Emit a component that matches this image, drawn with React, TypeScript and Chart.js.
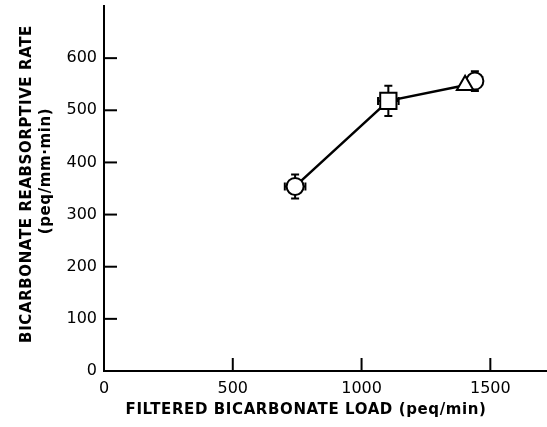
import React, { useEffect, useRef } from "react";
import { Chart, registerables } from "chart.js";

Chart.register(...registerables);

// Main connected series: filtered load (peq/min) vs reabsorptive rate (peq/mm·min)
const loads = [742, 1104, 1402];
const rates = [354, 518, 548];
const rateErr = [23, 29, 0];
const loadErr = [40, 40, 0];
const mainStyles = ["circle", "rect", "triangle"];

// Separate point: circle with inverted triangle
const loads2 = [1440];
const rates2 = [556];
const rateErr2 = [19];

const xTicks = [0, 500, 1000, 1500];
const yTicks = [0, 100, 200, 300, 400, 500, 600];

const xTitle = "FILTERED BICARBONATE LOAD (peq/min)";
const yTitle1 = "BICARBONATE REABSORPTIVE RATE";
const yTitle2 = "(peq/mm·min)";

const FONT = "'DejaVu Sans', sans-serif";

const errorBarPlugin = {
  id: "errorBars",
  beforeDatasetsDraw(chart: any) {
    const { ctx, scales } = chart;
    const xs = scales.x;
    const ys = scales.y;
    ctx.save();
    ctx.strokeStyle = "#000";
    ctx.lineWidth = 2;
    const sets = [
      { xv: loads, yv: rates, ye: rateErr, xe: loadErr },
      { xv: loads2, yv: rates2, ye: rateErr2, xe: [0] },
    ];
    const cap = 4;
    sets.forEach((s) => {
      s.xv.forEach((xv: number, i: number) => {
        const px = xs.getPixelForValue(xv);
        const py = ys.getPixelForValue(s.yv[i]);
        const ye = s.ye[i] || 0;
        const xe = s.xe[i] || 0;
        if (ye > 0) {
          const t = ys.getPixelForValue(s.yv[i] + ye);
          const b = ys.getPixelForValue(s.yv[i] - ye);
          ctx.beginPath();
          ctx.moveTo(px, t);
          ctx.lineTo(px, b);
          ctx.moveTo(px - cap, t);
          ctx.lineTo(px + cap, t);
          ctx.moveTo(px - cap, b);
          ctx.lineTo(px + cap, b);
          ctx.stroke();
        }
        if (xe > 0) {
          const l = xs.getPixelForValue(xv - xe);
          const r = xs.getPixelForValue(xv + xe);
          ctx.beginPath();
          ctx.moveTo(l, py);
          ctx.lineTo(r, py);
          ctx.moveTo(l, py - cap);
          ctx.lineTo(l, py + cap);
          ctx.moveTo(r, py - cap);
          ctx.lineTo(r, py + cap);
          ctx.stroke();
        }
      });
    });
    ctx.restore();
  },
};

const inwardTicksPlugin = {
  id: "inwardTicks",
  afterDatasetsDraw(chart: any) {
    const { ctx, scales, chartArea } = chart;
    ctx.save();
    ctx.strokeStyle = "#000";
    ctx.lineWidth = 2;
    const len = 13;
    scales.x.ticks.forEach((t: any) => {
      if (t.value === 0) return;
      const px = scales.x.getPixelForValue(t.value);
      ctx.beginPath();
      ctx.moveTo(px, chartArea.bottom);
      ctx.lineTo(px, chartArea.bottom - len);
      ctx.stroke();
    });
    scales.y.ticks.forEach((t: any) => {
      if (t.value === 0) return;
      const py = scales.y.getPixelForValue(t.value);
      ctx.beginPath();
      ctx.moveTo(chartArea.left, py);
      ctx.lineTo(chartArea.left + len, py);
      ctx.stroke();
    });
    ctx.restore();
  },
};

const titlesPlugin = {
  id: "axisTitlesCustom",
  afterDraw(chart: any) {
    const { ctx } = chart;
    ctx.save();
    ctx.fillStyle = "#000";
    ctx.textAlign = "center";
    ctx.textBaseline = "middle";
    ctx.font = `bold 15px ${FONT}`;
    (ctx as any).letterSpacing = "0.6px";
    ctx.fillText(xTitle, 306, 410);
    ctx.translate(27, 184);
    ctx.rotate(-Math.PI / 2);
    ctx.fillText(yTitle1, 0, 0);
    ctx.restore();
    ctx.save();
    ctx.fillStyle = "#000";
    ctx.textAlign = "center";
    ctx.textBaseline = "middle";
    ctx.font = `bold 15px ${FONT}`;
    (ctx as any).letterSpacing = "0.6px";
    ctx.translate(46, 171);
    ctx.rotate(-Math.PI / 2);
    ctx.fillText(yTitle2, 0, 0);
    ctx.restore();
  },
};

export default function App() {
  const ref = useRef<HTMLCanvasElement | null>(null);

  useEffect(() => {
    if (!ref.current) return;
    const chart = new Chart(ref.current, {
      type: "scatter",
      data: {
        datasets: [
          {
            data: loads.map((x, i) => ({ x, y: rates[i] })),
            showLine: true,
            borderColor: "#000",
            borderWidth: 2.5,
            backgroundColor: "#fff",
            pointStyle: mainStyles as any,
            pointRadius: [8.5, 11.5, 9.5],
            pointBorderWidth: 2,
            pointBorderColor: "#000",
            pointBackgroundColor: "#fff",
          },
          {
            data: loads2.map((x, i) => ({ x, y: rates2[i] })),
            showLine: false,
            pointStyle: "circle",
            pointRadius: 8.5,
            pointBorderWidth: 2,
            pointBorderColor: "#000",
            pointBackgroundColor: "#fff",
          },
          {
            data: loads2.map((x, i) => ({ x, y: rates2[i] })),
            showLine: false,
            pointStyle: "triangle",
            rotation: 180,
            pointRadius: 8,
            pointBorderWidth: 2,
            pointBorderColor: "#000",
            pointBackgroundColor: "rgba(255,255,255,0)",
          },
        ],
      },
      options: {
        responsive: false,
        animation: false,
        events: [],
        layout: { autoPadding: false, padding: { top: 6, right: 0, left: 0, bottom: 0 } },
        plugins: {
          legend: { display: false },
          tooltip: { enabled: false },
          title: { display: false },
        },
        scales: {
          x: {
            type: "linear",
            min: 0,
            max: 1720,
            afterBuildTicks: (s: any) => {
              s.ticks = xTicks.map((v) => ({ value: v }));
            },
            afterFit: (s: any) => {
              s.height = 56;
              s.paddingLeft = 0;
              s.paddingRight = 0;
            },
            grid: { display: false, drawTicks: false },
            border: { display: true, color: "#000", width: 2 },
            ticks: {
              color: "#000",
              padding: 8,
              font: { family: FONT, size: 16 },
              maxRotation: 0,
              callback: (v: any) => String(v),
            },
          },
          y: {
            type: "linear",
            min: 0,
            max: 700,
            afterBuildTicks: (s: any) => {
              s.ticks = yTicks.map((v) => ({ value: v }));
            },
            afterFit: (s: any) => {
              s.width = 104;
              s.paddingTop = 0;
              s.paddingBottom = 0;
            },
            grid: { display: false, drawTicks: false },
            border: { display: true, color: "#000", width: 2 },
            ticks: {
              color: "#000",
              padding: 7,
              font: { family: FONT, size: 16 },
              callback: (v: any) => String(v),
            },
          },
        },
      },
      plugins: [errorBarPlugin, inwardTicksPlugin, titlesPlugin],
    });
    return () => chart.destroy();
  }, []);

  return (
    <div style={{ position: "absolute", left: 0, top: 0, width: 547, height: 427, background: "#fff" }}>
      <canvas ref={ref} width={547} height={427} style={{ width: 547, height: 427 }} />
    </div>
  );
}
